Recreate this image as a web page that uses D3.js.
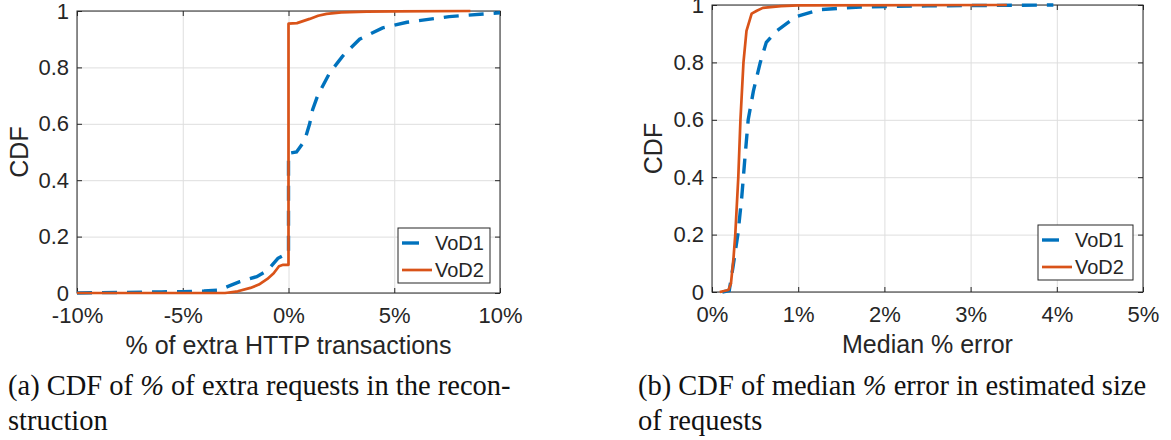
<!DOCTYPE html>
<html>
<head>
<meta charset="utf-8">
<script src="https://cdn.jsdelivr.net/npm/d3@7/dist/d3.min.js"></script>
<style>
  body { margin: 0; background: #fff; }
  svg text { fill: #262626; }
  .axis path { display: none; }
  .axis line { stroke: #262626; }
  .grid line { stroke: #dedede; }
  .grid path { display: none; }
  .caption { font-family: 'Liberation Serif', 'Times New Roman', serif; font-size: 28.5px; fill: #111; }
</style>
</head>
<body>
<div id="area"></div>
<script>
// panel (a): % of extra HTTP transactions
var extraTicks = [-10, -5, 0, 5, 10];
var extraVod1X = [-10, -8, -6, -5, -4, -3.3, -2.8, -2.3, -1.5, -1.0, -0.5, -0.2, 0, 0, 0.38, 0.76, 1.0, 1.14, 1.38, 1.94, 2.56, 3.36, 4.45, 5.6, 7.6, 10];
var extraVod1Y = [0, 0.002, 0.004, 0.005, 0.007, 0.01, 0.025, 0.04, 0.058, 0.08, 0.123, 0.135, 0.14, 0.495, 0.5, 0.54, 0.6, 0.65, 0.7, 0.78, 0.84, 0.9, 0.94, 0.96, 0.98, 0.994];
var extraVod2X = [-10, -3, -2.9, -2.4, -1.8, -1.4, -1.0, -0.7, -0.45, -0.25, 0, 0, 0.4, 1.0, 1.4, 1.8, 2.5, 3.7, 5, 8.6];
var extraVod2Y = [0, 0, 0.001, 0.006, 0.018, 0.03, 0.05, 0.07, 0.095, 0.1, 0.1, 0.955, 0.957, 0.972, 0.983, 0.99, 0.995, 0.998, 0.999, 1.0];

// panel (b): median % error
var errorTicks = [0, 1, 2, 3, 4, 5];
var errorVod1X = [0.12, 0.2, 0.245, 0.3, 0.345, 0.38, 0.42, 0.48, 0.56, 0.63, 0.75, 0.98, 1.25, 1.72, 2.5, 3.0, 3.96];
var errorVod1Y = [0, 0.005, 0.09, 0.2, 0.33, 0.46, 0.6, 0.7, 0.8, 0.87, 0.91, 0.96, 0.984, 0.993, 0.997, 0.998, 1.0];
var errorVod2X = [0.09, 0.19, 0.22, 0.25, 0.27, 0.305, 0.33, 0.365, 0.4, 0.46, 0.52, 0.59, 0.8, 1.0, 3.42];
var errorVod2Y = [0, 0.007, 0.03, 0.12, 0.2, 0.4, 0.6, 0.8, 0.91, 0.97, 0.98, 0.99, 0.996, 0.999, 1.0];

var cdfTicks = [0, 0.2, 0.4, 0.6, 0.8, 1];
var seriesNames = ['VoD1', 'VoD2'];

var w = 1171,
  h = 440;
var blue = '#0072BD',
  orange = '#D95319';
var sans = "'Liberation Sans', Arial, Helvetica, sans-serif";

var svg = d3
  .select('#area')
  .append('svg')
  .attr('width', w)
  .attr('height', h);

function zip(xs, ys) {
  return xs.map(function(x, i) {
    return [x, ys[i]];
  });
}

function drawPanel(p) {
  var xScale = d3
    .scaleLinear()
    .domain(p.xDomain)
    .range([p.left, p.right]);
  var yScale = d3
    .scaleLinear()
    .domain([0, 1])
    .range([p.bottom, p.top]);
  var pw = p.right - p.left,
    ph = p.bottom - p.top;
  var fmtY = function(d) {
    return d === 0 || d === 1 ? d : d.toFixed(1);
  };
  var fmtX = function(d) {
    return d + '%';
  };

  // grid
  svg
    .append('g')
    .attr('class', 'grid')
    .attr('transform', 'translate(0,' + p.bottom + ')')
    .call(d3.axisBottom(xScale).tickValues(p.xTicks).tickSize(-ph).tickFormat(''));
  svg
    .append('g')
    .attr('class', 'grid')
    .attr('transform', 'translate(' + p.left + ',0)')
    .call(d3.axisLeft(yScale).tickValues(cdfTicks).tickSize(-pw).tickFormat(''));

  // box
  svg
    .append('rect')
    .attr('x', p.left)
    .attr('y', p.top)
    .attr('width', pw)
    .attr('height', ph)
    .attr('fill', 'none')
    .attr('stroke', '#262626')
    .attr('stroke-width', 1);

  // axes with inward ticks
  var xAxis = svg
    .append('g')
    .attr('class', 'axis')
    .attr('transform', 'translate(0,' + p.bottom + ')')
    .call(d3.axisBottom(xScale).tickValues(p.xTicks).tickSize(-5).tickPadding(14.5).tickFormat(fmtX));
  svg
    .append('g')
    .attr('class', 'axis')
    .attr('transform', 'translate(0,' + p.top + ')')
    .call(d3.axisTop(xScale).tickValues(p.xTicks).tickSize(-5).tickFormat(''));
  var yAxis = svg
    .append('g')
    .attr('class', 'axis')
    .attr('transform', 'translate(' + p.left + ',0)')
    .call(d3.axisLeft(yScale).tickValues(cdfTicks).tickSize(-5).tickPadding(8).tickFormat(fmtY));
  svg
    .append('g')
    .attr('class', 'axis')
    .attr('transform', 'translate(' + p.right + ',0)')
    .call(d3.axisRight(yScale).tickValues(cdfTicks).tickSize(-5).tickFormat(''));

  [xAxis, yAxis].forEach(function(g) {
    g.selectAll('text')
      .attr('font-family', sans)
      .attr('font-size', '22px')
      .attr('fill', '#262626');
  });

  // axis labels
  svg
    .append('text')
    .attr('x', (p.left + p.right) / 2)
    .attr('y', p.xLabelY)
    .attr('text-anchor', 'middle')
    .attr('font-family', sans)
    .attr('font-size', '25px')
    .text(p.xLabel);
  svg
    .append('text')
    .attr('transform', 'translate(' + p.yLabelX + ',' + (p.top + p.bottom) / 2 + ') rotate(-90)')
    .attr('text-anchor', 'middle')
    .attr('font-family', sans)
    .attr('font-size', '25px')
    .text('CDF');

  // curves
  var line = d3
    .line()
    .x(function(d) {
      return xScale(d[0]);
    })
    .y(function(d) {
      return yScale(d[1]);
    })
    .curve(d3.curveLinear);

  svg
    .append('path')
    .datum(p.vod1)
    .attr('d', line)
    .attr('fill', 'none')
    .attr('stroke', blue)
    .attr('stroke-width', 3.4)
    .attr('stroke-dasharray', '15,10');
  svg
    .append('path')
    .datum(p.vod2)
    .attr('d', line)
    .attr('fill', 'none')
    .attr('stroke', orange)
    .attr('stroke-width', 2.7)
    .attr('stroke-linejoin', 'round');

  // legend
  var lg = svg.append('g').attr('transform', 'translate(' + p.legend[0] + ',' + p.legend[1] + ')');
  lg.append('rect')
    .attr('width', p.legend[2])
    .attr('height', 55)
    .attr('fill', '#fff')
    .attr('stroke', '#262626')
    .attr('stroke-width', 1);
  seriesNames.forEach(function(name, i) {
    var yy = 15 + i * 27;
    lg.append('line')
      .attr('x1', 4)
      .attr('x2', 34)
      .attr('y1', yy)
      .attr('y2', yy)
      .attr('stroke', i === 0 ? blue : orange)
      .attr('stroke-width', i === 0 ? 3.4 : 2.7)
      .attr('stroke-dasharray', i === 0 ? '17,14' : null);
    lg.append('text')
      .attr('x', 37)
      .attr('y', yy)
      .attr('dy', '0.35em')
      .attr('font-family', sans)
      .attr('font-size', '20px')
      .text(name);
  });
}

drawPanel({
  left: 77,
  right: 500,
  top: 11,
  bottom: 293,
  xDomain: [-10, 10],
  xTicks: extraTicks,
  xLabel: '% of extra HTTP transactions',
  xLabelY: 354,
  yLabelX: 28,
  legend: [398, 228, 92],
  vod1: zip(extraVod1X, extraVod1Y),
  vod2: zip(extraVod2X, extraVod2Y)
});

drawPanel({
  left: 712,
  right: 1143,
  top: 5,
  bottom: 292,
  xDomain: [0, 5],
  xTicks: errorTicks,
  xLabel: 'Median % error',
  xLabelY: 353,
  yLabelX: 662,
  legend: [1038, 225, 95],
  vod1: zip(errorVod1X, errorVod1Y),
  vod2: zip(errorVod2X, errorVod2Y)
});

// captions
function caption(x, lines) {
  var t = svg.append('text').attr('class', 'caption');
  lines.forEach(function(parts, i) {
    parts.forEach(function(part, j) {
      var s = t.append('tspan').text(part.text);
      if (j === 0) s.attr('x', x).attr('y', 395 + i * 35);
      if (part.italic) s.attr('font-style', 'italic');
    });
  });
}

caption(8, [
  [{ text: '(a) CDF of ' }, { text: '%', italic: true }, { text: ' of extra requests in the recon-' }],
  [{ text: 'struction' }]
]);
caption(638, [
  [{ text: '(b) CDF of median ' }, { text: '%', italic: true }, { text: ' error in estimated size' }],
  [{ text: 'of requests' }]
]);
</script>
</body>
</html>
